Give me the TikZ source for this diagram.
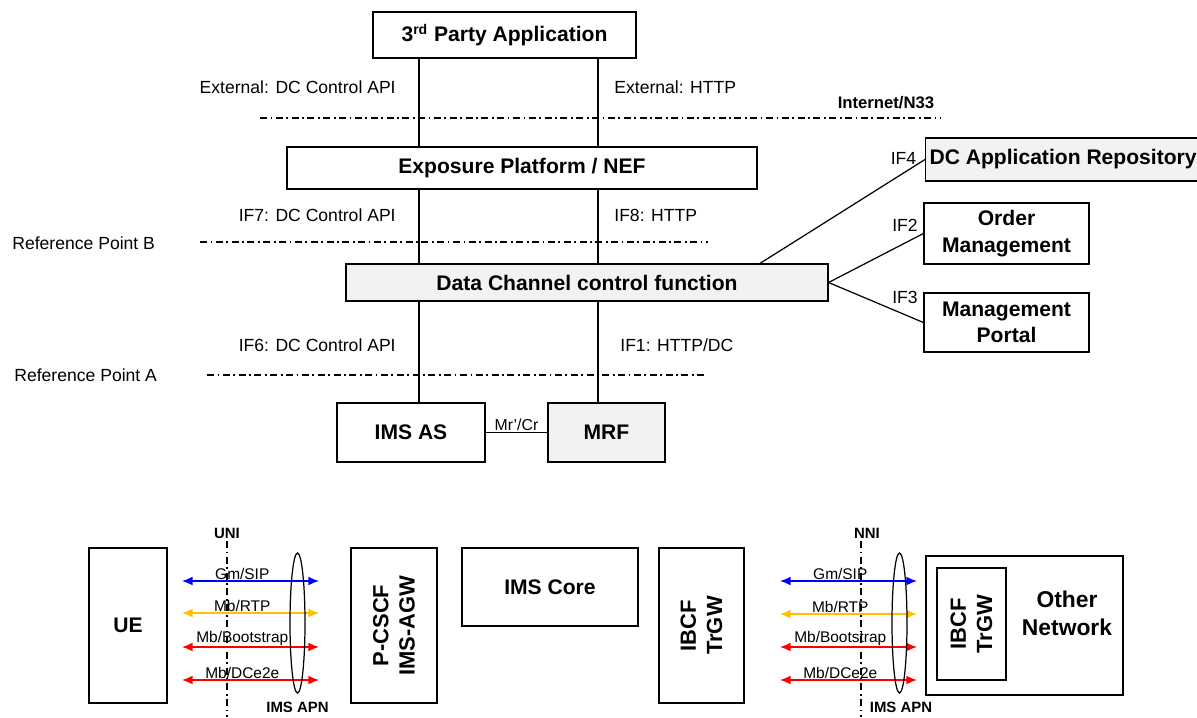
\documentclass[tikz,border=0pt]{standalone}
\usepackage{fontspec}
\setmainfont{Liberation Sans}
\usepackage{tikz}
\usetikzlibrary{arrows.meta}

\definecolor{amber}{RGB}{255,192,0}
\definecolor{boxgrey}{RGB}{242,242,242}

\begin{document}
\begin{tikzpicture}[x=0.02cm,y=-0.02cm,line width=0.7pt,>={Latex[length=6pt,width=5pt]},
        box/.style={draw,inner sep=0pt,align=center,font=\fontsize{12}{15}\selectfont\bfseries},
        grey/.style={fill=boxgrey},
        lbl/.style={inner sep=1pt,font=\fontsize{10}{12}\selectfont},
        small/.style={inner sep=0.5pt,font=\fontsize{8.8}{10}\selectfont},
        tag/.style={inner sep=1pt,font=\fontsize{8.5}{10}\selectfont\bfseries},
        refline/.style={line width=0.6pt,dash pattern=on 4pt off 2pt on 1pt off 2pt},
        bidir/.style={<->,line width=0.8pt}]

        \useasboundingbox (0,0) rectangle (1197,717);

        \node at (504.5,35) [box,minimum width=5.26cm,minimum height=0.92cm] (app) {3\textsuperscript{rd} Party Application};
        \node at (522,168) [box,minimum width=9.4cm,minimum height=0.84cm] (nef) {Exposure Platform / NEF};
        \node at (587,282.5) [box,grey,minimum width=9.64cm,minimum height=0.74cm] (dccf) {Data Channel control function};
        \node at (411,432.5) [box,minimum width=2.96cm,minimum height=1.18cm] (imsas) {IMS AS};
        \node at (606.5,432.5) [box,grey,minimum width=2.34cm,minimum height=1.18cm] (mrf) {MRF};

        \node at (925,159.5) [box,grey,anchor=west,minimum width=5.5cm,minimum height=0.86cm] (dcar) {DC Application Repository};
        \node at (1006.5,233.5) [box,minimum width=3.3cm,minimum height=1.22cm] (om) {Order\\Management};
        \node at (1006.5,322.5) [box,minimum width=3.3cm,minimum height=1.18cm] (mp) {Management\\Portal};

        \coordinate (lx) at (419,0);
        \coordinate (rx) at (598,0);
        \coordinate (dx) at (760,0);

        \draw (app.south -| lx) -- (nef.north -| lx);
        \draw (app.south -| rx) -- (nef.north -| rx);
        \draw (nef.south -| lx) -- (dccf.north -| lx);
        \draw (nef.south -| rx) -- (dccf.north -| rx);
        \draw (dccf.south -| lx) -- (imsas.north -| lx);
        \draw (dccf.south -| rx) -- (mrf.north -| rx);
        \draw (imsas) -- node[above,small,font=\fontsize{9}{10}\selectfont] {Mr'/Cr} (mrf);
        \draw (dccf.north -| dx) -- (dcar.west);
        \draw (dccf.east) -- (om.west);
        \draw (dccf.east) -- (mp.west);

        \node[lbl,anchor=east] (extapi) at (398,87) {External: DC Control API};
        \node[lbl,anchor=west] (exthttp) at (612,87) {External: HTTP};
        \node[tag,font=\fontsize{9.5}{11}\selectfont\bfseries] (inet) at (886,103) {Internet/N33};
        \node[lbl,anchor=east] (if7) at (398,215) {IF7: DC Control API};
        \node[lbl,anchor=west] (if8) at (612,215) {IF8: HTTP};
        \node[lbl,anchor=west] (refb) at (10,243) {Reference Point B};
        \node[lbl,anchor=east] (if6) at (398,345) {IF6: DC Control API};
        \node[lbl,anchor=west] (if1) at (618,345) {IF1: HTTP/DC};
        \node[lbl,anchor=west] (refa) at (12,375) {Reference Point A};
        \node[lbl] (if4) at (903.5,158) {IF4};
        \node[lbl] (if2) at (905,225) {IF2};
        \node[lbl] (if3) at (905,297) {IF3};

        \draw[refline] (260,118) -- (940,118);
        \draw[refline] (200,242) -- (708,242);
        \draw[refline] (207,375) -- (706,375);

        \node at (128,625.5) [box,minimum width=1.56cm,minimum height=3.1cm] (ue) {UE};
        \node at (394,625.5) [box,rotate=90,minimum width=3.1cm,minimum height=1.72cm,font=\fontsize{12.5}{15}\selectfont\bfseries] (pcscf) {P-CSCF\\IMS-AGW};
        \node at (550,587) [box,minimum width=3.52cm,minimum height=1.56cm] (imscore) {IMS Core};
        \node at (701.5,625.5) [box,rotate=90,minimum width=3.1cm,minimum height=1.7cm,font=\fontsize{12.5}{15}\selectfont\bfseries] (ibcf) {IBCF\\TrGW};
        \node at (1024.5,625.5) [box,minimum width=3.94cm,minimum height=2.78cm] (other) {};
        \node at (971.5,624) [box,rotate=90,minimum width=2.24cm,minimum height=1.38cm,font=\fontsize{12.5}{15}\selectfont\bfseries] (ibcfo) {IBCF\\TrGW};
        \node[align=center,inner sep=0pt,font=\fontsize{13}{16}\selectfont\bfseries] (othertxt) at (1067,613) {Other\\Network};

        \draw[refline] (227,541) -- (227,717);
        \draw[refline] (861,541) -- (861,717);
        \node[tag] (uni) at (227,533) {UNI};
        \node[tag] (nni) at (867,533) {NNI};
        \node[tag] (apnl) at (297.5,707) {IMS APN};
        \node[tag] (apnr) at (901,707) {IMS APN};

        \coordinate (ul1) at (182,581); \coordinate (ur1) at (319,581);
        \coordinate (ul2) at (182,613); \coordinate (ur2) at (319,613);
        \coordinate (ul3) at (182,647); \coordinate (ur3) at (319,647);
        \coordinate (ul4) at (182,680); \coordinate (ur4) at (319,680);
        \coordinate (nl1) at (780,581); \coordinate (nr1) at (917,581);
        \coordinate (nl2) at (780,614); \coordinate (nr2) at (917,614);
        \coordinate (nl3) at (780,647); \coordinate (nr3) at (917,647);
        \coordinate (nl4) at (780,680); \coordinate (nr4) at (917,680);

        \draw[bidir,blue] (ul1) -- node[pos=0.44,above,small,text=black] {Gm/SIP} (ur1);
        \draw[bidir,amber] (ul2) -- node[pos=0.44,above,small,text=black] {Mb/RTP} (ur2);
        \draw[bidir,red] (ul3) -- node[pos=0.44,above,small,text=black] {Mb/Bootstrap} (ur3);
        \draw[bidir,red] (ul4) -- node[pos=0.44,above,small,text=black] {Mb/DCe2e} (ur4);
        \draw[bidir,blue] (nl1) -- node[pos=0.44,above,small,text=black] {Gm/SIP} (nr1);
        \draw[bidir,amber] (nl2) -- node[pos=0.44,above,small,text=black] {Mb/RTP} (nr2);
        \draw[bidir,red] (nl3) -- node[pos=0.44,above,small,text=black] {Mb/Bootstrap} (nr3);
        \draw[bidir,red] (nl4) -- node[pos=0.44,above,small,text=black] {Mb/DCe2e} (nr4);

        \draw (297.5,623) ellipse [x radius=0.15cm, y radius=1.4cm];
        \draw (899.5,623) ellipse [x radius=0.15cm, y radius=1.4cm];

      \end{tikzpicture}
\end{document}
